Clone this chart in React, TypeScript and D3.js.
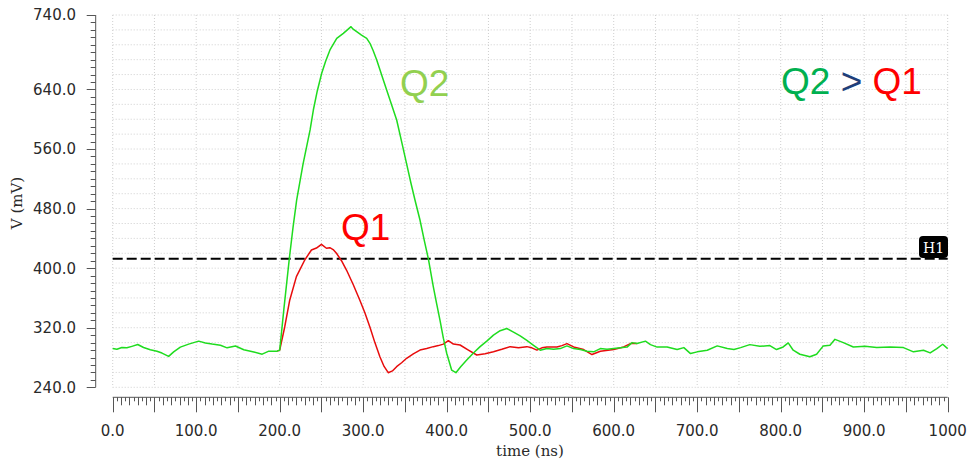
import React, { useEffect, useRef } from 'react';
import * as d3 from 'd3';

// time (ns) / voltage (mV)
const GREEN_T = [0, 5, 11, 17, 23, 30, 37, 45, 53, 59, 67, 73, 81, 91, 97, 103, 111, 119, 129, 137, 147, 157, 169, 179, 187, 197,
    200, 205, 211.5, 216, 220.3, 228, 236.4, 240.3, 245, 250.3, 255, 260.2, 268.3, 276.2, 281, 285.4, 288, 292.2, 298, 304.2, 308.1,
    312, 316.2, 324.1, 332.1, 340.1, 346, 352, 357, 362, 368, 373, 378, 384, 388, 392, 396, 400, 406, 411, 417, 424, 432, 440, 448,
    456, 464, 472, 480, 488, 496, 504, 512, 520, 528, 536, 544, 552, 560, 568, 576, 584, 592, 600, 608, 616, 622, 628, 638, 644, 652,
    664, 676, 684, 692, 700, 712, 724, 736, 744, 752, 763, 775, 787, 795, 803, 809, 815, 823, 835, 843, 851, 859, 865, 875, 887, 901,
    915, 931, 947, 959, 971, 979, 987, 994, 1000];
const GREEN_V = [292, 291, 293.5, 293, 295, 297.5, 293.5, 290.5, 288.5, 286, 281.5, 287.5, 294, 298, 300, 302, 299.5, 298, 296.5, 293, 295.5, 290.5, 287.5, 284.5, 288.5, 288.5,
    290, 345, 412.7, 455, 491.5, 540, 585.6, 612.4, 638, 661.7, 678, 693, 708.7, 715.4, 720, 724.3, 721, 717.6, 713, 708.7, 702,
    692, 679.6, 652.7, 625.8, 599, 570, 540, 515, 491.5, 464.7, 438, 412.7, 375, 352, 330, 306, 285.7, 263, 259.6, 268, 276.7, 286, 294.6, 302,
    310, 316, 319, 314, 309, 303, 296.4, 289.8, 292, 291, 292, 295.6, 292, 290.7, 288.4, 287.6, 292, 291, 292, 293, 294, 300, 298.7, 302, 297.3, 294,
    294, 290.7, 293.3, 285.3, 287.6, 289.8, 295.6, 292, 290.7, 293.3, 297.3, 295, 296, 290.7, 294.2, 299.6, 289.8, 284.4, 281, 284.4, 295.6, 296.4, 304.4, 300, 294.2, 295,
    293.3, 294.2, 293.3, 287.6, 289.8, 286.2, 292, 297.8, 292];

const RED_T = [197, 200, 206, 212, 220, 230, 238, 244, 250, 256, 260, 264, 268, 274, 280, 288, 296, 302, 308, 314, 320, 325, 330, 335,
    340, 346, 352, 360, 368, 376, 384, 390, 396, 402, 408, 416, 426, 436, 446, 456, 466, 476, 486, 496, 502, 508, 514, 520, 532, 538,
    544, 552, 564, 574, 584, 600, 612, 620, 628];
const RED_V = [288.5, 290, 321, 357, 388.6, 411, 424.4, 427, 432, 426.7, 427.5, 425, 420, 410, 397.5, 378, 357, 340, 321, 300, 281, 268, 259.6, 262,
    267.7, 273, 279, 285, 290, 292, 294.6, 296, 298, 302.6, 298, 296.8, 290, 283.4, 285, 287.8, 291, 294.6, 293, 294.6, 293, 290, 293, 294.2, 294.2, 296,
    298.7, 294.2, 290.7, 284, 288.4, 290.7, 294.2, 298.7, 298.7];

const Y_LABELS = [240, 320, 400, 480, 560, 640, 740];
const X_LABELS = [0, 100, 200, 300, 400, 500, 600, 700, 800, 900, 1000];
const H1_LEVEL = 412.7;

export default function App() {
    const svgRef = useRef<SVGSVGElement>(null);

    useEffect(() => {
        if (!svgRef.current) return;
        const svg = d3.select(svgRef.current);
        svg.selectAll('*').remove();

        const x = d3.scaleLinear().domain([0, 1000]).range([112.7, 947.7]);
        const y = d3.scaleLinear().domain([240, 740]).range([387.3, 15]);
        const [x0, x1] = x.range();
        const [yb, yt] = y.range();

        // grid
        const grid = svg.append('g');
        d3.range(0, 1001, 50).forEach(t => {
            grid.append('line')
                .attr('x1', x(t)).attr('x2', x(t)).attr('y1', yt).attr('y2', yb)
                .attr('stroke', '#cfcfcf').attr('stroke-width', 1).attr('stroke-dasharray', '1,2');
        });
        d3.range(240, 741, 20).forEach(v => {
            grid.append('line')
                .attr('x1', x0).attr('x2', x1).attr('y1', y(v)).attr('y2', y(v))
                .attr('stroke', '#cfcfcf').attr('stroke-width', 1).attr('stroke-dasharray', '1,2');
        });

        // y axis
        const axisColor = '#555';
        const yAxisX = 95.7;
        const ya = svg.append('g');
        ya.append('line').attr('x1', yAxisX).attr('x2', yAxisX).attr('y1', yt).attr('y2', yb)
            .attr('stroke', axisColor).attr('stroke-width', 1);
        d3.range(240, 741, 10).forEach(v => {
            const major = Y_LABELS.includes(v);
            ya.append('line')
                .attr('x1', yAxisX - (major ? 9 : 5)).attr('x2', yAxisX)
                .attr('y1', Math.round(y(v)) + 0.5).attr('y2', Math.round(y(v)) + 0.5)
                .attr('stroke', axisColor).attr('stroke-width', 1);
        });
        ya.selectAll('text.yl').data(Y_LABELS).enter().append('text')
            .attr('x', 76).attr('y', d => y(d)).attr('dy', '0.36em')
            .attr('text-anchor', 'end')
            .style('font-family', 'DejaVu Sans, sans-serif').style('font-size', '15px')
            .attr('fill', '#2a2a2a')
            .text(d => d.toFixed(1));
        ya.append('text')
            .attr('transform', 'translate(22,203) rotate(-90)')
            .attr('text-anchor', 'middle')
            .style('font-family', 'DejaVu Serif, serif').style('font-size', '15px')
            .attr('fill', '#2a2a2a')
            .text('V (mV)');

        // x axis
        const xAxisY = 397.3;
        const xa = svg.append('g');
        xa.append('line').attr('x1', x0).attr('x2', x1).attr('y1', xAxisY).attr('y2', xAxisY)
            .attr('stroke', axisColor).attr('stroke-width', 1);
        d3.range(0, 1001, 5).forEach(t => {
            const len = t % 50 === 0 ? 15 : t % 10 === 0 ? 8 : 4;
            const px = Math.round(x(t)) + 0.5;
            xa.append('line').attr('x1', px).attr('x2', px).attr('y1', xAxisY).attr('y2', xAxisY + len)
                .attr('stroke', axisColor).attr('stroke-width', 1);
        });
        // the last label is shown without its decimal, as in the source plot
        xa.selectAll('text.xl').data(X_LABELS).enter().append('text')
            .attr('x', d => x(d)).attr('y', 436)
            .attr('text-anchor', 'middle')
            .style('font-family', 'DejaVu Sans, sans-serif').style('font-size', '15px')
            .attr('fill', '#2a2a2a')
            .text(d => (d === 1000 ? String(d) : d.toFixed(1)));
        xa.append('text')
            .attr('x', 530).attr('y', 456)
            .attr('text-anchor', 'middle')
            .style('font-family', 'DejaVu Serif, serif').style('font-size', '15px')
            .attr('fill', '#2a2a2a')
            .text('time (ns)');

        // H1 marker line
        svg.append('line')
            .attr('x1', x0).attr('x2', x1).attr('y1', y(H1_LEVEL)).attr('y2', y(H1_LEVEL))
            .attr('stroke', '#000').attr('stroke-width', 2).attr('stroke-dasharray', '10,4');
        svg.append('rect')
            .attr('x', 919).attr('y', 236).attr('width', 29).attr('height', 22).attr('rx', 4)
            .attr('fill', '#000');
        svg.append('text')
            .attr('x', 933.5).attr('y', 252.5).attr('text-anchor', 'middle')
            .style('font-family', 'DejaVu Serif, serif').style('font-size', '14px')
            .attr('fill', '#fff')
            .text('H1');

        // curves
        const path = (ts: number[], vs: number[]) =>
            d3.line<number>().x(d => x(ts[d])).y(d => y(vs[d]))(d3.range(ts.length));

        svg.append('path').attr('d', path(RED_T, RED_V))
            .attr('fill', 'none').attr('stroke', '#e80c0c').attr('stroke-width', 1.5)
            .attr('stroke-linejoin', 'round');
        svg.append('path').attr('d', path(GREEN_T, GREEN_V))
            .attr('fill', 'none').attr('stroke', '#1fdc1f').attr('stroke-width', 1.5)
            .attr('stroke-linejoin', 'round');

        // annotations
        const big = (sel: d3.Selection<SVGTextElement, unknown, null, undefined>) =>
            sel.style('font-family', 'Liberation Sans, Arial, sans-serif').style('font-size', '37px');
        big(svg.append('text').attr('x', 400).attr('y', 96)).attr('fill', '#92d050').text('Q2');
        big(svg.append('text').attr('x', 341).attr('y', 240)).attr('fill', '#ff0000').text('Q1');

        const legend = big(svg.append('text').attr('x', 781).attr('y', 94));
        legend.append('tspan').attr('fill', '#00b050').text('Q2');
        legend.append('tspan').attr('fill', '#1f3f7a').text(' > ');
        legend.append('tspan').attr('fill', '#ff0000').text('Q1');
    }, []);

    return (
        <svg
            ref={svgRef}
            width={968}
            height={459}
            viewBox="0 0 968 459"
            style={{ position: 'absolute', left: 0, top: 0, background: '#fff' }}
        />
    );
}
